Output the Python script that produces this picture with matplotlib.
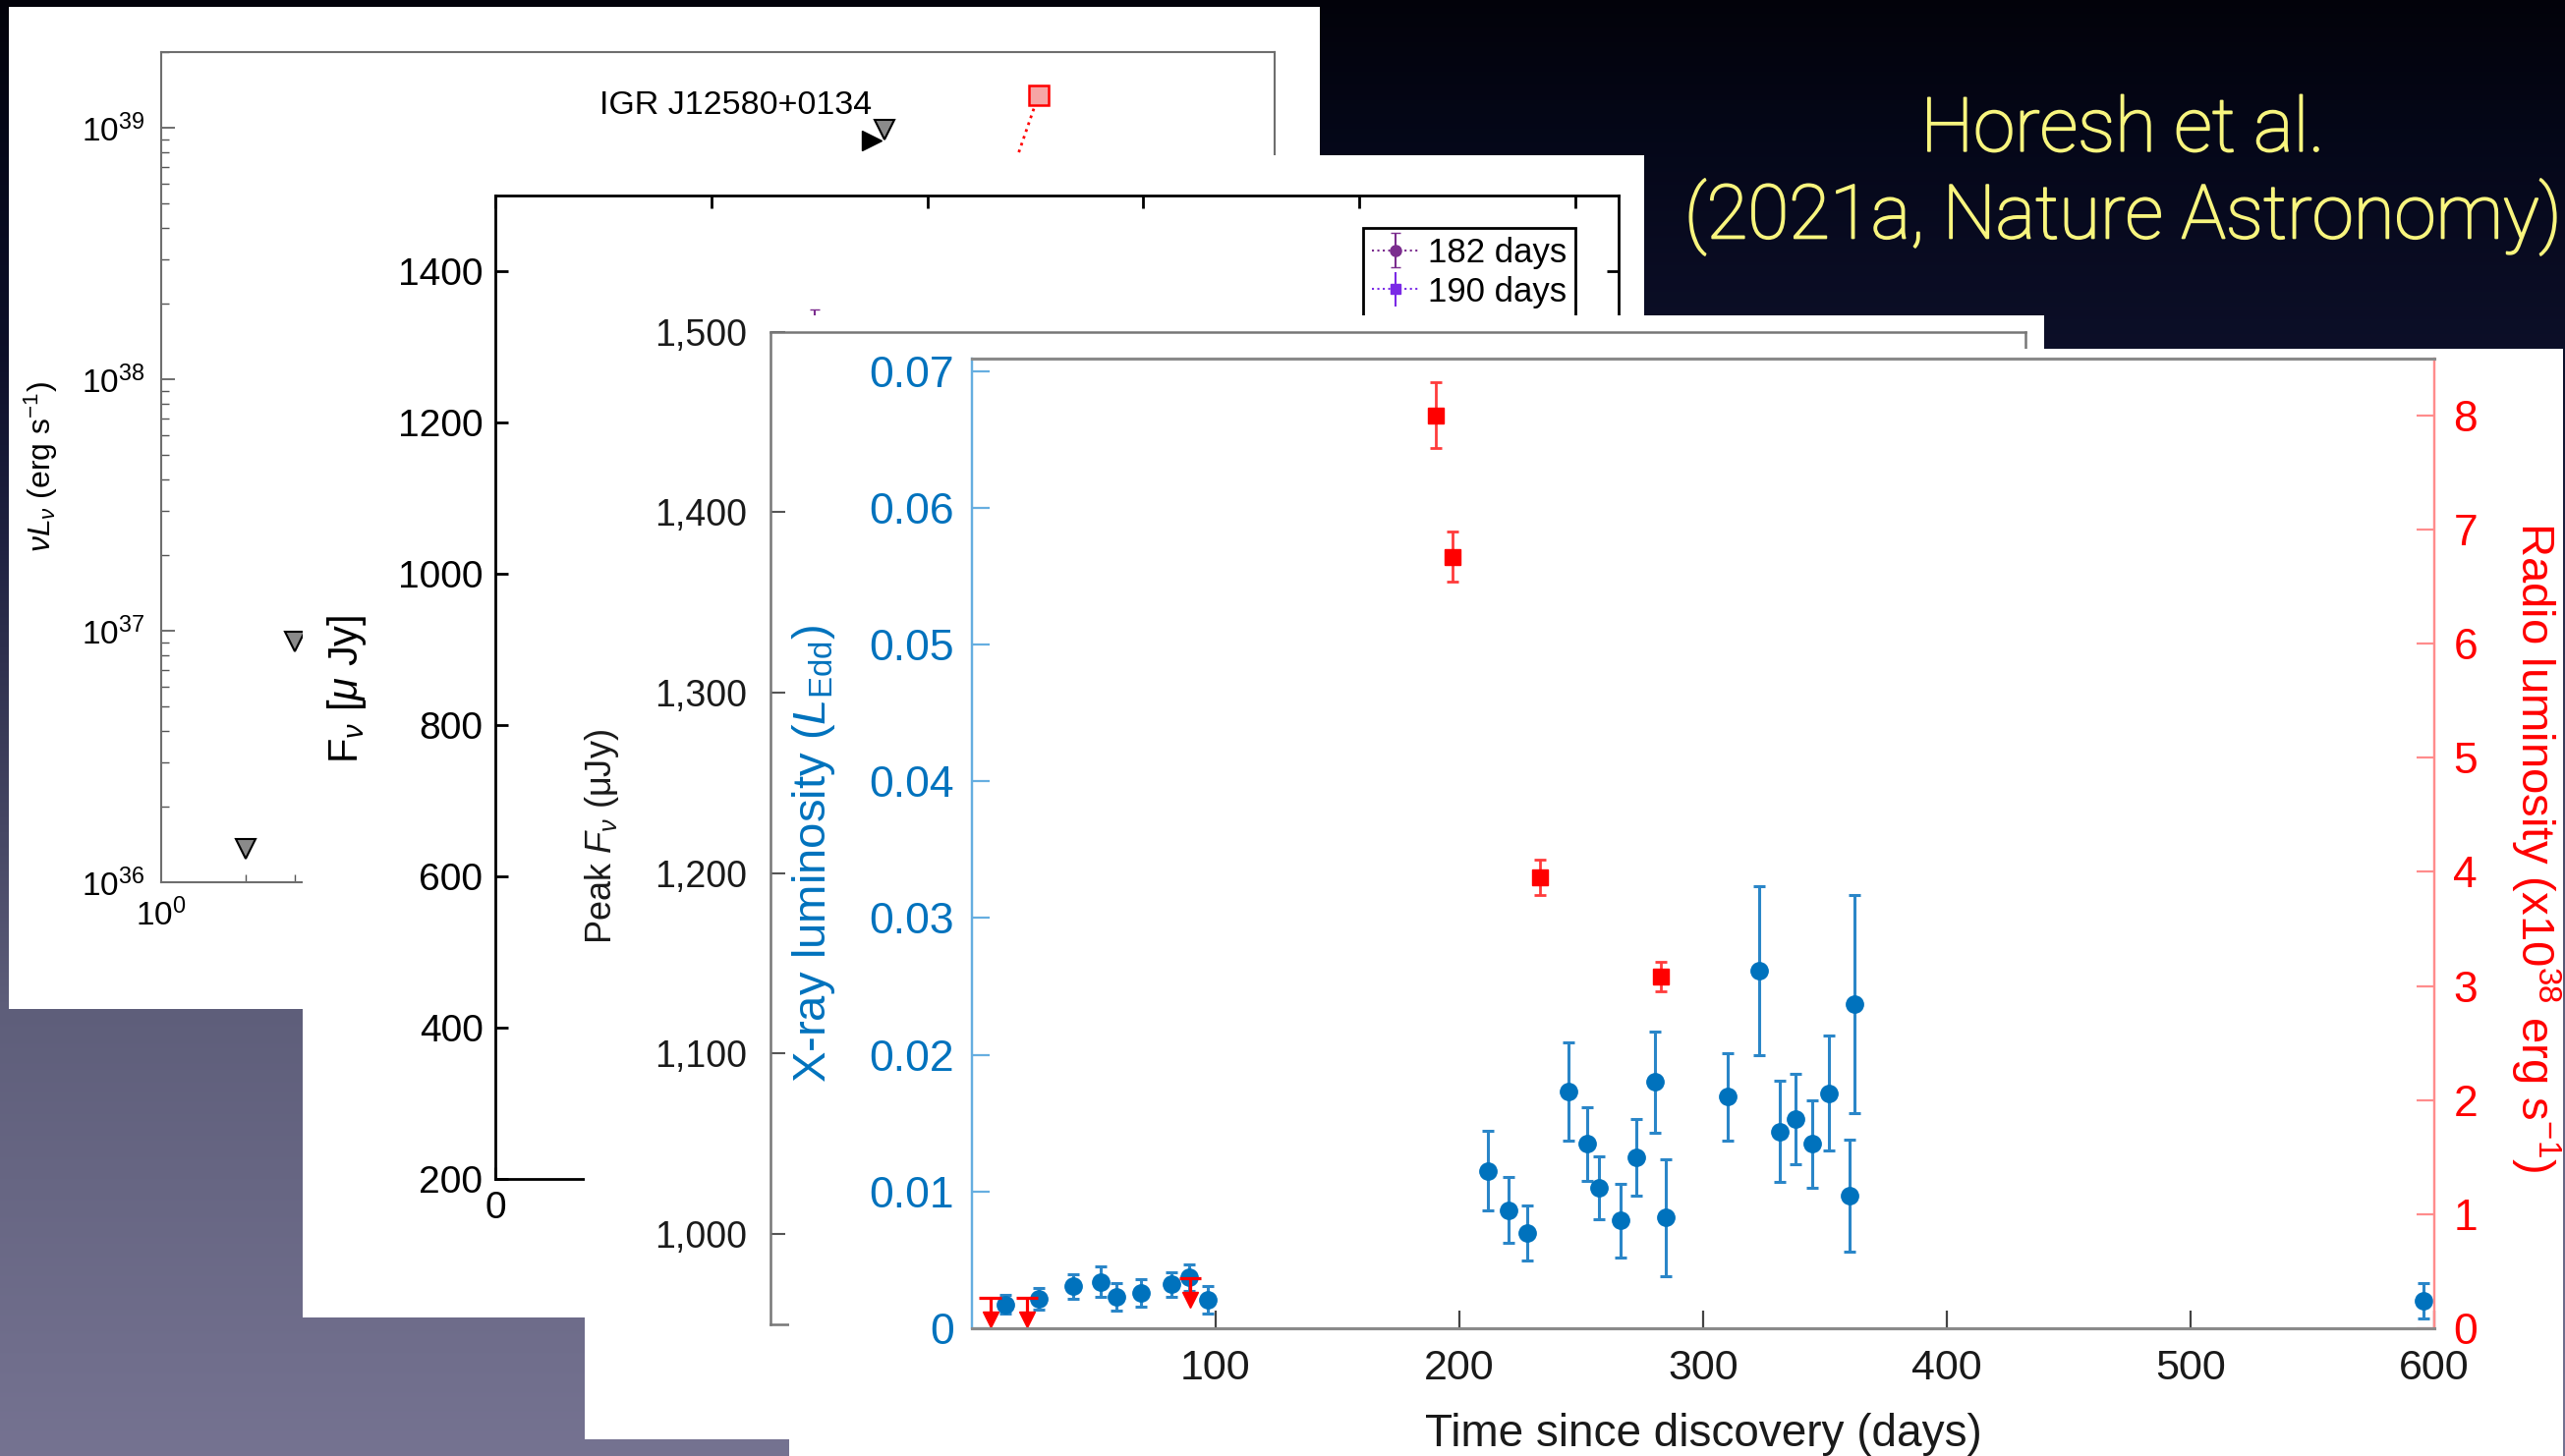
import numpy as np
import matplotlib
matplotlib.use('Agg')
import matplotlib.pyplot as plt
import matplotlib.patheffects as pe
from matplotlib.patches import Rectangle
from matplotlib.ticker import FixedLocator, FuncFormatter, LogLocator, NullFormatter, NullLocator

plt.rcParams['font.family'] = ['Liberation Sans', 'DejaVu Sans']
plt.rcParams['mathtext.fontset'] = 'custom'
plt.rcParams['mathtext.rm'] = 'Liberation Sans'
plt.rcParams['mathtext.it'] = 'Liberation Sans:italic'
plt.rcParams['mathtext.bf'] = 'Liberation Sans:bold'

W, H = 2610, 1482

# --- back panel: nu L_nu vs time (log-log) ---
lim_days = [2, 3, 377]
lim_lum = [1.36e36, 9.1e36, 9.8e38]
det_days = [339]
det_lum = [8.9e38]
igr_days = [1336, 857]
igr_lum = [1.35e39, 3.2e38]

# --- second panel: radio spectra ---
sed182_freq = [7.4]
sed182_flux = [1300]
sed182_err = [49]
sed190_freq = []
sed190_flux = []
sed190_err = []

# --- front panel: X-ray (L_Edd) and radio (1e38 erg/s) light curves ---
xray_days = [13.6, 27.3, 41.7, 52.8, 59.1, 69.2, 82.0, 89.1, 96.8,
             211.5, 220.1, 227.9, 244.7, 252.3, 257.4, 266.2, 272.6, 280.3, 284.7,
             310.0, 323.0, 331.5, 337.8, 344.8, 351.5, 360.2, 362.2, 595.6]
xray_lum = [0.00175, 0.00213, 0.00306, 0.0034, 0.0023, 0.0026, 0.0032, 0.0037, 0.0021,
            0.01151, 0.00864, 0.00696, 0.0173, 0.01347, 0.01024, 0.00787, 0.01251, 0.01802, 0.00809,
            0.01694, 0.02615, 0.01438, 0.0153, 0.0135, 0.0172, 0.0097, 0.0237, 0.0020]
xray_err = [0.0007, 0.0008, 0.0009, 0.0011, 0.001, 0.001, 0.0009, 0.001, 0.001,
            0.0029, 0.0024, 0.002, 0.0036, 0.0027, 0.0023, 0.0027, 0.0028, 0.0037, 0.0043,
            0.0032, 0.0062, 0.0037, 0.0033, 0.0032, 0.0042, 0.0041, 0.008, 0.0013]

radio_days = [190.2, 197.2, 233.1, 282.8]
radio_lum = [8.0, 6.76, 3.95, 3.08]
radio_err = [0.29, 0.22, 0.155, 0.13]

ul_days = [7.5, 22.6, 89.5]
ul_lum = [0.27, 0.27, 0.44]

xray_ticks = [0, 0.01, 0.02, 0.03, 0.04, 0.05, 0.06, 0.07]
radio_ticks = [0, 1, 2, 3, 4, 5, 6, 7, 8]
day_ticks = [100, 200, 300, 400, 500, 600]
peak_ticks = [1000, 1100, 1200, 1300, 1400, 1500]
flux_ticks = [200, 400, 600, 800, 1000, 1200, 1400]
freq_ticks = [0, 5, 10, 15, 20, 25]


def rect_px(l, t, r, b):
    return [l / W, 1 - b / H, (r - l) / W, (b - t) / H]


def fpos(x, y):
    return x / W, 1 - y / H


def panel_bg(l, t, r, b, z):
    fig.add_artist(Rectangle((l / W, 1 - b / H), (r - l) / W, (b - t) / H,
                             transform=fig.transFigure, facecolor='white',
                             edgecolor='none', zorder=z))


fig = plt.figure(figsize=(W / 100, H / 100), dpi=100)

# slide background
bg = fig.add_axes([0, 0, 1, 1])
bg.set_zorder(-10)
bg.axis('off')
ys = np.arange(H)
stops = [0, 150, 360, 550, 1030, 1482]
cols = np.array([(0.01, 0.01, 0.04), (0.02, 0.03, 0.10), (0.05, 0.06, 0.16),
                 (0.12, 0.13, 0.25), (0.37, 0.37, 0.48), (0.46, 0.45, 0.57)])
grad = np.stack([np.interp(ys, stops, cols[:, i]) for i in range(3)], axis=-1)
bg.imshow(grad[:, None, :], aspect='auto', extent=[0, 1, 0, 1])
bg.set_xlim(0, 1)
bg.set_ylim(0, 1)

title_fx = [pe.withStroke(linewidth=1.3, foreground='#f8f57e')]
for ty, line in [(133, 'Horesh et al.'), (221, '(2021a, Nature Astronomy)')]:
    fig.text(*fpos(2160, ty), line, color='#f8f57e', fontsize=55,
             family=['Roboto', 'Liberation Sans'], fontweight='light',
             ha='center', va='center', zorder=5, path_effects=title_fx)

# ---------------- panel 1 ----------------
panel_bg(9, 7, 1343, 1027, 10)
ax1 = fig.add_axes(rect_px(164, 53, 1297, 898))
ax1.set_zorder(11)
ax1.patch.set_visible(False)
ax1.set_xscale('log')
ax1.set_yscale('log')
ax1.set_xlim(1, 10 ** 3.967)
ax1.set_ylim(1e36, 2e39)
for s in ax1.spines.values():
    s.set_color('#6e6e6e')
    s.set_linewidth(1.5)
ax1.yaxis.set_major_locator(LogLocator(base=10, numticks=10))
ax1.yaxis.set_minor_locator(LogLocator(base=10, subs=np.arange(2, 10), numticks=10))
ax1.yaxis.set_minor_formatter(NullFormatter())
ax1.xaxis.set_major_locator(FixedLocator([1]))
ax1.xaxis.set_major_formatter(FuncFormatter(lambda v, p: r'$\mathdefault{10^{0}}$'))
ax1.xaxis.set_minor_locator(FixedLocator([2, 3]))
ax1.xaxis.set_minor_formatter(NullFormatter())
ax1.tick_params(which='both', direction='in', color='#555555', labelsize=24,
                top=False, right=False)
ax1.tick_params(which='major', length=10, width=1.2, pad=12)
ax1.tick_params(which='minor', length=5.5, width=1.0)
ax1.plot(lim_days, lim_lum, 'v', ms=15, mfc='#8a8a8a', mec='black', mew=1.5)
ax1.plot(det_days, det_lum, '>', ms=15, color='black')
ax1.plot(igr_days, igr_lum, ':', color='red', lw=2)
ax1.plot(igr_days[:1], igr_lum[:1], 's', ms=15, mfc='#f6a5a5', mec='red', mew=1.8)
ax1.text(*fpos(749, 107), 'IGR J12580+0134', transform=fig.transFigure,
         fontsize=24.5, ha='center', va='center')
ax1.text(*fpos(42, 475), r'$\nu L_\nu$ (erg s$^{-1}$)', transform=fig.transFigure,
         fontsize=23, rotation=90, ha='center', va='center')

# ---------------- panel 2 ----------------
panel_bg(308, 158, 1673, 1341, 20)
ax2 = fig.add_axes(rect_px(504, 199, 1647, 1200))
ax2.set_zorder(21)
ax2.patch.set_visible(False)
ax2.set_xlim(0, 26)
ax2.set_ylim(200, 1500)
ax2.xaxis.set_major_locator(FixedLocator(freq_ticks))
ax2.xaxis.set_major_formatter(FuncFormatter(lambda v, p: '0' if v == 0 else ''))
ax2.yaxis.set_major_locator(FixedLocator(flux_ticks))
for s in ax2.spines.values():
    s.set_color('black')
    s.set_linewidth(2)
ax2.tick_params(direction='in', top=True, right=True, length=9, width=2,
                labelsize=28, pad=9)
ax2.errorbar(sed182_freq, sed182_flux, yerr=sed182_err, fmt='o:', color='#7b2d8e',
             ms=8, lw=1.5, capsize=3.5, label='182 days')
ax2.errorbar(sed190_freq, sed190_flux, yerr=sed190_err, fmt='s:', color='#7a2ae6',
             ms=7, lw=1.5, capsize=3.5, label='190 days')
lx, ly = fpos(1603, 232)
leg = ax2.legend(loc='upper right', bbox_to_anchor=(lx, ly),
                 bbox_transform=fig.transFigure, fontsize=25, frameon=True,
                 fancybox=False, framealpha=1, borderaxespad=0, borderpad=0.25,
                 handlelength=1.4, handletextpad=0.25, labelspacing=0.2)
leg.get_frame().set_edgecolor('black')
leg.get_frame().set_linewidth(2)
ax2.text(*fpos(353, 701), r'F$_\nu$ [$\mu$ Jy]', transform=fig.transFigure,
         fontsize=30, rotation=90, ha='center', va='center')

# ---------------- panel 3 (peak flux) ----------------
panel_bg(595, 321, 2080, 1465, 30)
axp = fig.add_axes(rect_px(784, 337.5, 2061, 1348))
axp.set_zorder(31)
axp.patch.set_visible(False)
axp.set_ylim(950, 1500)
axp.yaxis.set_major_locator(FixedLocator(peak_ticks))
axp.yaxis.set_major_formatter(FuncFormatter(lambda v, p: f'{v:,.0f}'))
axp.xaxis.set_major_locator(NullLocator())
for s in axp.spines.values():
    s.set_color('#777777')
    s.set_linewidth(1.8)
axp.tick_params(direction='in', length=11, width=1.5, color='#555555',
                labelsize=27, pad=17, labelcolor='#1a1a1a')
axp.text(*fpos(613, 852), r'Peak $F_\nu$ (μJy)', transform=fig.transFigure,
         fontsize=26, rotation=90, ha='center', va='center', color='#1a1a1a')

# ---------------- front panel ----------------
blue = '#0072BD'
panel_bg(803, 355, 2608, 1482, 40)
ax3 = fig.add_axes(rect_px(989, 365, 2477, 1352))
ax3.set_zorder(41)
ax3.patch.set_visible(False)
ax3r = ax3.twinx()
ax3r.set_zorder(42)
ax3r.patch.set_visible(False)

ax3.set_xlim(0, 600)
ax3.set_ylim(0, 0.0709)
ax3r.set_ylim(0, 8.497)
ax3.xaxis.set_major_locator(FixedLocator(day_ticks))
ax3.yaxis.set_major_locator(FixedLocator(xray_ticks))
ax3.yaxis.set_major_formatter(FuncFormatter(lambda v, p: '0' if v == 0 else f'{v:.2f}'))
ax3r.yaxis.set_major_locator(FixedLocator(radio_ticks))

for ax in (ax3, ax3r):
    ax.spines['top'].set_color('#8a8a8a')
    ax.spines['bottom'].set_color('#8a8a8a')
    ax.spines['top'].set_linewidth(2.2)
    ax.spines['bottom'].set_linewidth(2.2)
    ax.spines['left'].set_color('#66aee0')
    ax.spines['right'].set_color('#ff8c8c')
    ax.spines['left'].set_linewidth(1.6)
    ax.spines['right'].set_linewidth(1.6)

ax3.tick_params(axis='x', direction='in', length=13, width=1.6, color='#444444',
                labelsize=31, pad=15, labelcolor='#1a1a1a')
ax3.tick_params(axis='y', direction='in', length=13, width=1.6, color='#66aee0',
                labelsize=32, pad=13, labelcolor=blue)
ax3r.tick_params(axis='y', direction='in', length=13, width=1.6, color='#ff8c8c',
                 labelsize=32, pad=14, labelcolor='red')

ax3.errorbar(xray_days, xray_lum, yerr=xray_err, fmt='o', color=blue, ms=12.5,
             ecolor='#2a86c8', elinewidth=2.2, capsize=4, capthick=2.2)
ax3r.errorbar(radio_days, radio_lum, yerr=radio_err, fmt='s', color='red', ms=11,
              ecolor='#ff3b3b', elinewidth=2, capsize=4.5, capthick=2)
ul_tip = np.array(ul_lum) - 0.19
ax3r.errorbar(ul_days, ul_lum, xerr=4.6, yerr=[ul_lum - ul_tip, np.zeros(len(ul_lum))],
              fmt='none', ecolor='red', elinewidth=2.3, capsize=0)
ax3r.plot(ul_days, ul_tip, 'v', color='red', ms=12)

ax3.text(*fpos(828, 869), r'X-ray luminosity ($L_{\rm Edd}$)', transform=fig.transFigure,
         fontsize=34, rotation=90, ha='center', va='center', color=blue)
ax3r.text(*fpos(2580, 862), r'Radio luminosity (x10$^{38}$ erg s$^{-1}$)',
          transform=fig.transFigure, fontsize=34, rotation=270, ha='center', va='center',
          color='red')
ax3.text(*fpos(1733, 1460), 'Time since discovery (days)', transform=fig.transFigure,
         fontsize=33, ha='center', va='center', color='#1a1a1a')

fig.savefig('out.png', dpi=100)
